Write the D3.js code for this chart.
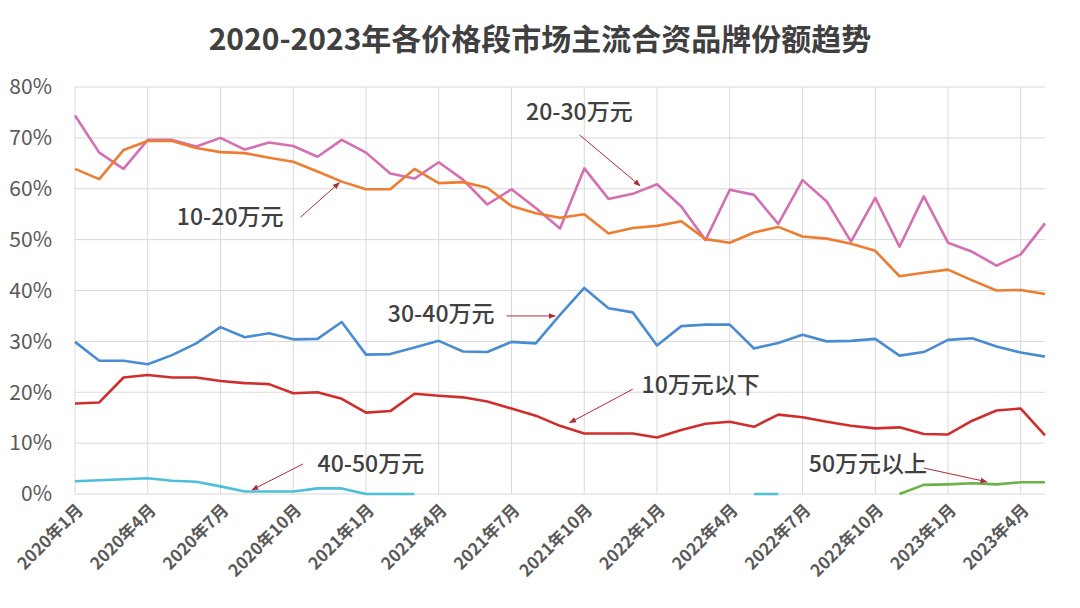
<!DOCTYPE html>
<html><head><meta charset="utf-8">
<script src="https://cdn.jsdelivr.net/npm/d3@7"></script>
<style>body{margin:0;background:#fff;}svg{display:block;font-family:"Noto Sans CJK SC","Noto Sans",sans-serif;}</style>
</head><body>
<svg id="c" width="1080" height="608"></svg>
<script>
const title = "2020-2023年各价格段市场主流合资品牌份额趋势";
const months = [];
for (let y = 2020; y <= 2023; y++) for (let m = 1; m <= 12; m++) { if (y === 2023 && m > 5) break; months.push(y + "年" + m + "月"); }
const yTicks = [0, 10, 20, 30, 40, 50, 60, 70, 80];

const s2030 = [74.4,67.1,63.9,69.6,69.6,68.3,70.0,67.7,69.1,68.4,66.3,69.6,67.1,63.0,62.0,65.2,61.8,56.9,59.9,56.2,52.2,64.0,58.0,59.0,60.9,56.5,49.9,59.8,58.8,53.1,61.7,57.5,49.6,58.2,48.6,58.5,49.4,47.6,44.9,47.1,53.2];
const s1020 = [63.9,61.9,67.6,69.4,69.4,68.0,67.2,67.0,66.1,65.3,63.4,61.4,59.9,59.9,63.9,61.1,61.3,60.2,56.6,55.2,54.3,55.0,51.2,52.3,52.7,53.6,50.1,49.4,51.4,52.5,50.6,50.2,49.2,47.8,42.8,43.5,44.1,42.0,40.0,40.1,39.3];
const s3040 = [29.9,26.2,26.2,25.5,27.3,29.6,32.8,30.8,31.6,30.4,30.5,33.8,27.4,27.5,28.8,30.1,28.0,27.9,29.9,29.6,35.2,40.5,36.5,35.7,29.2,33.0,33.3,33.3,28.6,29.7,31.3,30.0,30.1,30.5,27.2,27.9,30.3,30.6,29.0,27.8,27.0];
const s10 = [17.8,18.0,22.9,23.4,22.9,22.9,22.2,21.8,21.6,19.8,20.0,18.7,16.0,16.3,19.7,19.3,19.0,18.2,16.8,15.4,13.4,11.9,11.9,11.9,11.1,12.6,13.8,14.2,13.2,15.6,15.1,14.2,13.4,12.9,13.1,11.8,11.7,14.4,16.4,16.8,11.5];
const s4050 = [2.5,2.7,2.9,3.1,2.6,2.4,1.5,0.5,0.5,0.5,1.1,1.1,0,0,0,null,null,null,null,null,null,null,null,null,null,null,null,null,0,0,null,null,null,null,null,null,null,null,null,null,null];
const s50 = [null,null,null,null,null,null,null,null,null,null,null,null,null,null,null,null,null,null,null,null,null,null,null,null,null,null,null,null,null,null,null,null,null,null,0,1.8,1.9,2.1,1.9,2.3,2.3];

const seriesNames = ["20-30万元","10-20万元","30-40万元","10万元以下","40-50万元","50万元以上"];
const seriesData = [s2030, s1020, s3040, s10, s4050, s50];
const seriesColors = ["#d46fb3","#ed7d31","#4a8cd2","#cf2f2c","#4dbfd8","#6cb14a"];

// annotation: label, text centre (month index, value), arrow from, arrow to
const notes = [
  {t:"20-30万元", c:[20.8,75.1], a:[20.8,70.6], b:[23.3,60.6]},
  {t:"10-20万元", c:[6.4,54.4], a:[9.3,54.4], b:[10.9,61.2]},
  {t:"30-40万元", c:[15.1,35.4], a:[17.8,35.0], b:[19.8,35.0]},
  {t:"10万元以下", c:[25.8,21.4], a:[23.0,20.6], b:[20.4,14.0]},
  {t:"40-50万元", c:[12.2,5.9], a:[9.4,5.9], b:[7.3,0.8]},
  {t:"50万元以上", c:[32.7,5.9], a:[35.0,5.1], b:[37.6,2.4]}
];

const svg = d3.select("#c");
const x = d3.scaleLinear().domain([0, months.length - 1]).range([75, 1045]);
const y = d3.scaleLinear().domain([0, 80]).range([494, 87]);

svg.append("text").attr("x", 540).attr("y", 50).attr("text-anchor", "middle")
  .attr("font-size", 30).attr("font-weight", "bold").attr("fill", "#404040").text(title);

// grid
const g = svg.append("g");
g.selectAll("line.h").data(yTicks).join("line").attr("class","h")
  .attr("x1", x(0)).attr("x2", x(months.length - 1))
  .attr("y1", d => y(d)).attr("y2", d => y(d)).attr("stroke", "#d9d9d9").attr("stroke-width", 1);
const xIdx = d3.range(0, months.length, 3);
g.selectAll("line.v").data(xIdx).join("line").attr("class","v")
  .attr("x1", d => x(d)).attr("x2", d => x(d)).attr("y1", y(0)).attr("y2", y(80))
  .attr("stroke", "#d9d9d9").attr("stroke-width", 1);

// y labels
svg.selectAll("text.yl").data(yTicks).join("text").attr("class","yl")
  .attr("x", 52).attr("y", d => y(d)).attr("dy", "0.35em").attr("text-anchor", "end")
  .attr("font-size", 21).attr("fill", "#595959").text(d => d + "%");

// x labels
svg.selectAll("text.xl").data(xIdx).join("text").attr("class","xl")
  .attr("transform", d => `translate(${x(d) + 5},${y(0) + 13}) rotate(-45)`)
  .attr("text-anchor", "end").attr("dy", "0.35em")
  .attr("font-size", 17).attr("font-weight", 600).attr("fill", "#595959").text(d => months[d]);

// lines
const line = d3.line().defined(d => d != null).x((d, i) => x(i)).y(d => y(d));
seriesData.forEach((arr, k) => {
  svg.append("path").datum(arr).attr("d", line).attr("fill", "none")
    .attr("stroke", seriesColors[k]).attr("stroke-width", 2.6).attr("stroke-linejoin", "round");
});

// arrows
svg.append("defs").append("marker").attr("id", "ah").attr("viewBox", "0 0 10 10")
  .attr("refX", 9).attr("refY", 5).attr("markerWidth", 7).attr("markerHeight", 7)
  .attr("orient", "auto").append("path").attr("d", "M0,1 L10,5 L0,9 Z").attr("fill", "#b02a37");

notes.forEach(n => {
  const cx = x(n.c[0]), cy = y(n.c[1]);
  const t = svg.append("text").attr("x", cx).attr("y", cy).attr("dy", "0.35em")
    .attr("text-anchor", "middle").attr("font-size", 23).attr("font-weight", 500).attr("fill", "#404040").text(n.t);
  const bb = t.node().getBBox();
  svg.insert("rect", "text").attr("x", bb.x - 4).attr("y", bb.y).attr("width", bb.width + 8)
    .attr("height", bb.height).attr("fill", "#fff");
  t.raise();
  svg.append("line").attr("x1", x(n.a[0])).attr("y1", y(n.a[1])).attr("x2", x(n.b[0])).attr("y2", y(n.b[1]))
    .attr("stroke", "#b02a37").attr("stroke-width", 1).attr("marker-end", "url(#ah)");
});
</script>
</body></html>
